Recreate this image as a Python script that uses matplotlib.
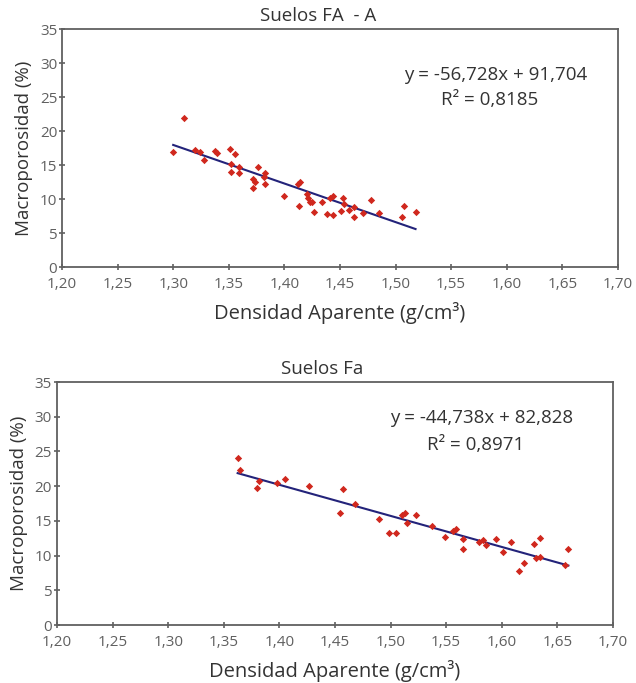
import matplotlib.pyplot as plt
import numpy as np

plt.rcParams['font.family'] = ['Open Sans', 'DejaVu Sans']

# Suelos FA - A
fa_x = [1.300, 1.310, 1.320, 1.324, 1.328, 1.338, 1.339, 1.351, 1.356, 1.352,
        1.352, 1.359, 1.359, 1.376, 1.372, 1.374, 1.372, 1.383, 1.382, 1.383,
        1.400, 1.412, 1.414, 1.413, 1.420, 1.421, 1.423, 1.425, 1.427, 1.434,
        1.441, 1.444, 1.438, 1.444, 1.451, 1.453, 1.454, 1.458, 1.463, 1.463,
        1.471, 1.478, 1.485, 1.508, 1.506, 1.518]
fa_y = [16.9, 21.9, 17.2, 16.9, 15.7, 17.0, 16.7, 17.4, 16.6, 15.2,
        14.0, 14.7, 13.9, 14.7, 12.9, 12.5, 11.6, 13.8, 13.3, 12.2,
        10.5, 12.2, 12.5, 9.0, 10.7, 10.1, 9.6, 9.5, 8.1, 9.6,
        10.2, 10.5, 7.8, 7.6, 8.2, 10.1, 9.3, 8.4, 8.8, 7.4,
        8.0, 9.8, 7.9, 9.0, 7.4, 8.1]
fa_coef = (-56.728, 91.704)
fa_r2 = "0,8185"

# Suelos Fa
fb_x = [1.3625, 1.365, 1.380, 1.382, 1.398, 1.405, 1.427, 1.4575, 1.4545, 1.468,
        1.490, 1.499, 1.505, 1.510, 1.513, 1.515, 1.523, 1.537, 1.549, 1.556,
        1.5585, 1.565, 1.565, 1.580, 1.583, 1.586, 1.595, 1.601, 1.608, 1.6155,
        1.620, 1.629, 1.6345, 1.631, 1.6345, 1.657, 1.660]
fb_y = [24.1, 22.3, 19.8, 20.8, 20.4, 21.0, 20.0, 19.6, 16.1, 17.5,
        15.3, 13.3, 13.3, 15.8, 16.1, 14.7, 15.9, 14.2, 12.7, 13.5,
        13.8, 12.4, 11.0, 12.0, 12.2, 11.5, 12.4, 10.5, 11.9, 7.8,
        9.0, 11.7, 12.5, 9.7, 9.8, 8.6, 11.0]
fb_coef = (-44.738, 82.828)
fb_r2 = "0,8971"

xticks = [1.20, 1.25, 1.30, 1.35, 1.40, 1.45, 1.50, 1.55, 1.60, 1.65, 1.70]
yticks = [0, 5, 10, 15, 20, 25, 30, 35]

fig = plt.figure(figsize=(6.36, 6.83), dpi=100)
ax1 = fig.add_axes([0.0975, 0.609, 0.874, 0.3485])
ax2 = fig.add_axes([0.0896, 0.0849, 0.874, 0.3558])


def draw(ax, x, y, coef, r2, title, title_x, eq_x, eq_y, r2_y):
    x = np.array(x)
    ax.scatter(x, y, marker='D', s=14, color='#d0281e', zorder=3, linewidths=0)
    lx = np.array([x.min(), x.max()])
    ax.plot(lx, coef[0] * lx + coef[1], color='#23237a', lw=1.5, zorder=2)
    ax.set_xlim(1.20, 1.70)
    ax.set_ylim(0, 35)
    ax.set_xticks(xticks)
    ax.set_xticklabels([f"{t:.2f}".replace('.', ',') for t in xticks])
    ax.set_yticks(yticks)
    for s in ax.spines.values():
        s.set_color('#606060')
        s.set_linewidth(1.3)
    ax.tick_params(direction='inout', length=5, width=1.2, color='#606060',
                   labelsize=11, labelcolor='#606060')
    ax.tick_params(axis='x', pad=5)
    ax.tick_params(axis='y', pad=1)
    ax.set_title(title, fontsize=13.5, color='#333333', pad=6, x=title_x)
    ax.set_xlabel("Densidad Aparente (g/cm³)", fontsize=14.5, color='#333333', labelpad=7)
    ax.set_ylabel("Macroporosidad (%)", fontsize=13.5, color='#333333', labelpad=5)
    sign = '+' if coef[1] >= 0 else '-'
    eq = f"y = {coef[0]:.3f}x {sign} {abs(coef[1]):.3f}".replace('.', ',')
    ax.text(eq_x, eq_y, eq, transform=ax.transAxes,
            ha='center', va='center', fontsize=13.5, color='#333333')
    ax.text(eq_x - 0.01, r2_y, f"R² = {r2}", transform=ax.transAxes,
            ha='center', va='center', fontsize=13.5, color='#333333')


draw(ax1, fa_x, fa_y, fa_coef, fa_r2, "Suelos FA  - A", 0.46, 0.78, 0.805, 0.70)
draw(ax2, fb_x, fb_y, fb_coef, fb_r2, "Suelos Fa", 0.477, 0.763, 0.852, 0.741)

fig.savefig("out.png", dpi=100)
